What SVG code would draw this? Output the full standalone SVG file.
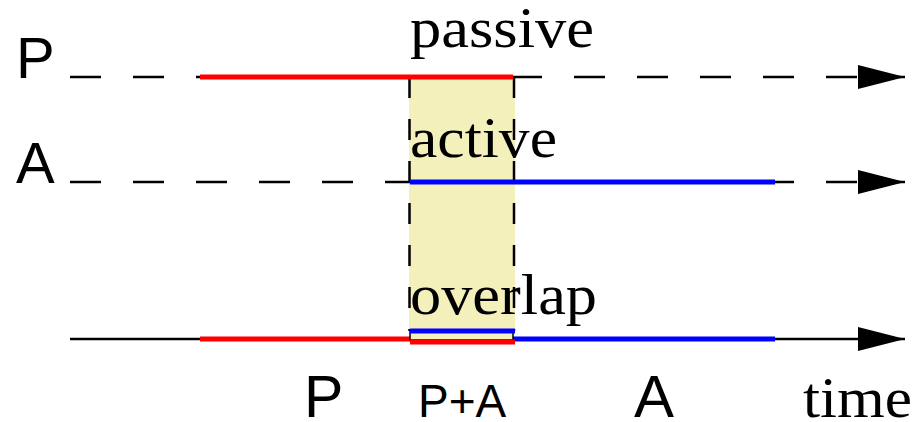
<svg xmlns="http://www.w3.org/2000/svg" width="920" height="422" viewBox="0 0 920 422">
<style>
.serif{font-family:"Liberation Serif","Times New Roman",serif;font-size:57px;fill:#000}
.sans{font-family:"Liberation Sans",Arial,sans-serif;fill:#000}
.dash{stroke:#000;stroke-width:2.5;stroke-dasharray:31 32;fill:none}
.vdash{stroke:#000;stroke-width:2.5;stroke-dasharray:21 21;fill:none}
.red{stroke:#ff0000;stroke-width:5;fill:none}
.blue{stroke:#0000ff;stroke-width:5;fill:none}
</style>
<defs>
<marker id="arr" markerUnits="userSpaceOnUse" markerWidth="48" markerHeight="24" refX="47" refY="12" orient="auto">
<path d="M0,0 L47,12 L0,24 Z" fill="#000"/>
</marker>
</defs>
<rect width="920" height="422" fill="#fff"/>
<g id="overlap-band">
<rect x="409" y="77" width="106" height="255" fill="#f4f0bc"/>
</g>
<g id="connectors">
<line class="dash" x1="70" y1="77" x2="858" y2="77"/>
<path d="M858,77 L905,77" stroke="#000" stroke-width="2.5" marker-end="url(#arr)"/>
<line class="dash" x1="70" y1="182" x2="858" y2="182"/>
<path d="M858,182 L905,182" stroke="#000" stroke-width="2.5" marker-end="url(#arr)"/>
<line x1="70" y1="339" x2="905" y2="339" stroke="#000" stroke-width="2.5" marker-end="url(#arr)"/>
<line class="vdash" x1="409.5" y1="77" x2="409.5" y2="331"/>
<line class="vdash" x1="514" y1="77" x2="514" y2="331"/>
</g>
<g id="passive-line">
<line class="red" x1="200" y1="77" x2="513" y2="77"/>
<text class="serif" x="410" y="47" textLength="184" lengthAdjust="spacingAndGlyphs">passive</text>
</g>
<g id="active-line">
<line class="blue" x1="410" y1="182" x2="775" y2="182"/>
<text class="serif" x="410" y="157" textLength="147" lengthAdjust="spacingAndGlyphs">active</text>
</g>
<g id="overlap-line">
<line class="red" x1="200" y1="339" x2="410" y2="339"/>
<line class="blue" x1="513" y1="339" x2="775" y2="339"/>
<rect x="410" y="331" width="103" height="9" fill="#f4f0bc" stroke="#000" stroke-width="1.5"/>
<line class="blue" x1="410" y1="331" x2="515" y2="331"/>
<line class="red" x1="410" y1="342" x2="515" y2="342"/>
<text class="serif" x="410" y="314" textLength="187" lengthAdjust="spacingAndGlyphs">overlap</text>
</g>
<g id="labels">
<text class="sans" x="16" y="78" font-size="58">P</text>
<text class="sans" x="16" y="183" font-size="58">A</text>
<text class="sans" x="304" y="417" font-size="59">P</text>
<text class="sans" x="418" y="417" font-size="46">P+A</text>
<text class="sans" x="634" y="417" font-size="60">A</text>
<text class="serif" x="803" y="417" textLength="109" lengthAdjust="spacingAndGlyphs">time</text>
</g>
</svg>
